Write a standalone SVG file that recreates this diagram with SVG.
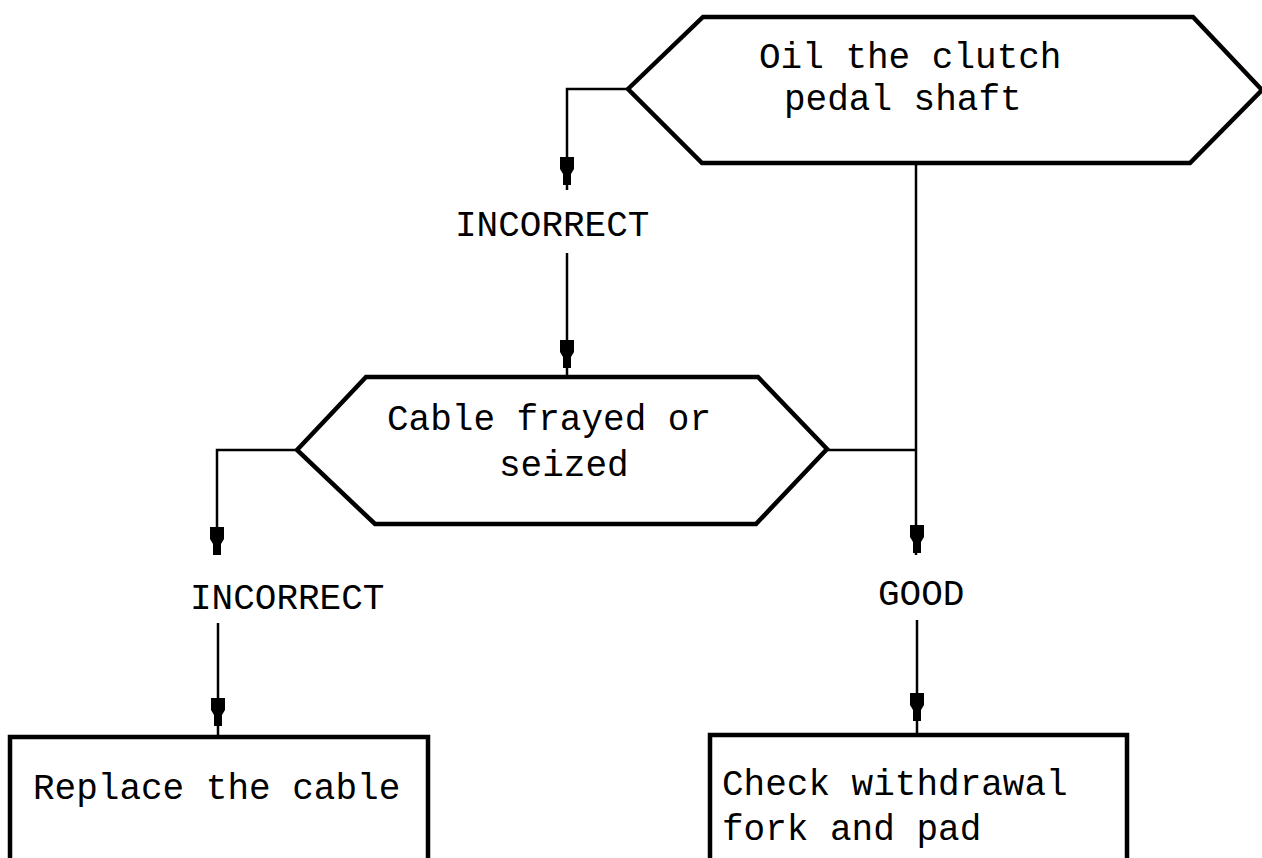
<svg xmlns="http://www.w3.org/2000/svg" xmlns:xlink="http://www.w3.org/1999/xlink" width="1262" height="858" viewBox="0 0 1262 858">
  <style>
    .shape { fill: #fff; stroke: #000; stroke-width: 4.5; stroke-linejoin: miter; }
    .wire { fill: none; stroke: #000; stroke-width: 2.5; }
    .txt { font-family: "Liberation Mono", "DejaVu Sans Mono", monospace; font-size: 36px; fill: #000; }
  </style>
  <defs>
    <!-- blocky arrow tip, origin at its top centre -->
    <path id="tip" d="M-7,0 H7 V12 L4,17 V28 H-4 V17 L-7,12 Z" fill="#000"/>
  </defs>
  <rect width="1262" height="858" fill="#fff"/>

  <g id="connectors">
    <path class="wire" d="M628,89 H567 V190"/>
    <path class="wire" d="M567,253 V377"/>
    <path class="wire" d="M297,450 H217 V555"/>
    <path class="wire" d="M218,623 V737"/>
    <path class="wire" d="M916,163 V555"/>
    <path class="wire" d="M827,450 H916" stroke-width="4"/>
    <path class="wire" d="M917,620 V735"/>
    <use xlink:href="#tip" x="567" y="157"/>
    <use xlink:href="#tip" x="567" y="340"/>
    <use xlink:href="#tip" x="217" y="527"/>
    <use xlink:href="#tip" x="917" y="525"/>
    <use xlink:href="#tip" x="218" y="698"/>
    <use xlink:href="#tip" x="917" y="693"/>
  </g>

  <g id="labels">
    <text class="txt" x="455" y="236">INCORRECT</text>
    <text class="txt" x="190" y="609">INCORRECT</text>
    <text class="txt" x="878" y="605">GOOD</text>
  </g>

  <g id="oil-shaft">
    <polygon class="shape" points="628,89 703,17 1193,17 1262,90 1190,163 702,163"/>
    <text class="txt" x="759" y="68">Oil the clutch</text>
    <text class="txt" x="784" y="110">pedal shaft</text>
  </g>

  <g id="cable-check">
    <polygon class="shape" points="297,450 366,377 758,377 827,449 756,524 375,524"/>
    <text class="txt" x="387" y="430">Cable frayed or</text>
    <text class="txt" x="499" y="476">seized</text>
  </g>

  <g id="replace-cable">
    <rect class="shape" x="10" y="737" width="418" height="140"/>
    <text class="txt" x="33" y="799">Replace the cable</text>
  </g>

  <g id="check-fork">
    <rect class="shape" x="710" y="735" width="417" height="140"/>
    <text class="txt" x="722" y="795">Check withdrawal</text>
    <text class="txt" x="722" y="840">fork and pad</text>
  </g>
</svg>
